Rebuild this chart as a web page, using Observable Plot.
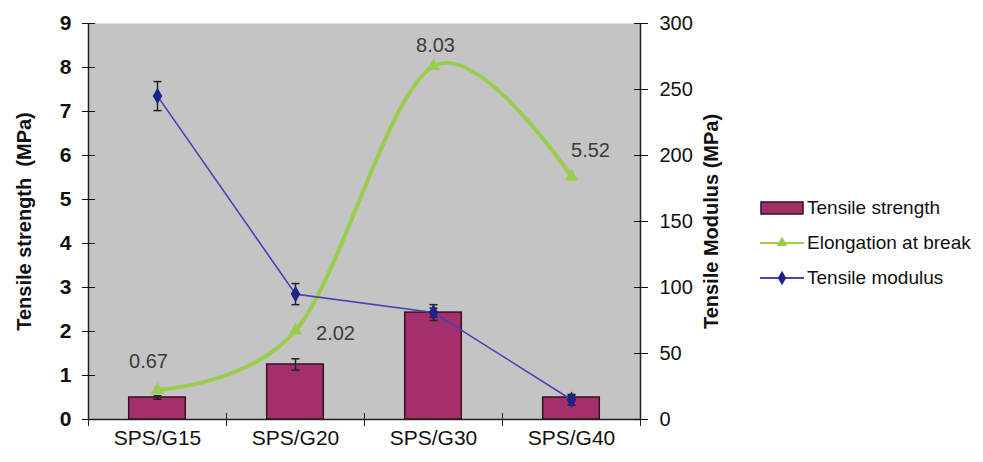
<!DOCTYPE html>
<html>
<head>
<meta charset="utf-8">
<script src="https://cdn.jsdelivr.net/npm/d3@7"></script>
<script src="https://cdn.jsdelivr.net/npm/@observablehq/plot@0.6"></script>
<style>
  body { margin: 0; background: #fff; }
  #wrap { position: relative; width: 983px; height: 462px; font-family: "Liberation Sans", Arial, sans-serif; }
  #legend { position: absolute; left: 760px; top: 190px; font-size: 19px; color: #111; }
  #legend .item { display: flex; align-items: center; height: 35px; }
  #legend svg { margin-right: 3px; }
</style>
</head>
<body>
<div id="wrap"><div id="legend"></div></div>
<script>
// Samples and mechanical properties
const categories = ["SPS/G15", "SPS/G20", "SPS/G30", "SPS/G40"];
const tensileStrength = [0.5, 1.25, 2.43, 0.5];          // MPa, left axis (bars)
const tensileStrengthErr = [0.04, 0.13, 0.1, 0.04];
const elongation = [0.67, 2.02, 8.03, 5.52];              // left axis (line)
const tensileModulus = [245, 95, 81, 15];                  // MPa, right axis
const tensileModulusErr = [11, 8, 6, 4];
const leftTicks = [0, 1, 2, 3, 4, 5, 6, 7, 8, 9];
const rightTicks = [0, 50, 100, 150, 200, 250, 300];

// Right axis shares the left scale: 300 MPa on the right lines up with 9 on the left
const rightToLeft = 9 / 300;

const colors = {
  plotBg: "#c4c4c4",
  bar: "#a3306a",
  barEdge: "#3b0f22",
  green: "#9acd4e",
  blueLine: "#4444b4",
  blueMark: "#20208a",
  errBar: "#222"
};

const rows = categories.map((c, i) => ({
  name: c,
  x: i + 0.5,
  strength: tensileStrength[i],
  sLo: tensileStrength[i] - tensileStrengthErr[i],
  sHi: tensileStrength[i] + tensileStrengthErr[i],
  elong: elongation[i],
  mod: tensileModulus[i] * rightToLeft,
  mLo: (tensileModulus[i] - tensileModulusErr[i]) * rightToLeft,
  mHi: (tensileModulus[i] + tensileModulusErr[i]) * rightToLeft
}));

// offsets (px) of the elongation value labels from their points
const labelOffsets = [[-9, -28], [40, 3], [2, -21], [19, -26]];

// horizontal cap for error bars
const capSymbol = {
  draw(ctx, size) {
    const w = Math.sqrt(size / Math.PI);
    ctx.moveTo(-w, 0);
    ctx.lineTo(w, 0);
  }
};

const barHalf = 0.205;
const font = "'Liberation Sans', Arial, sans-serif";

const chart = Plot.plot({
  width: 983,
  height: 462,
  marginLeft: 88,
  marginRight: 343,
  marginTop: 23,
  marginBottom: 43,
  style: { fontFamily: font, background: "transparent" },
  x: { domain: [0, 4] },
  y: { domain: [0, 9] },
  marks: [
    Plot.frame({ fill: colors.plotBg, stroke: "none" }),
    // tensile strength bars
    Plot.rectY(rows, {
      x1: d => d.x - barHalf, x2: d => d.x + barHalf, y1: 0, y2: "strength",
      fill: colors.bar, stroke: colors.barEdge, strokeWidth: 1.5
    }),
    Plot.ruleX(rows, { x: "x", y1: "sLo", y2: "sHi", stroke: colors.errBar, strokeWidth: 1.5 }),
    Plot.dot(rows, { x: "x", y: "sLo", symbol: capSymbol, r: 4, stroke: colors.errBar, strokeWidth: 1.5 }),
    Plot.dot(rows, { x: "x", y: "sHi", symbol: capSymbol, r: 4, stroke: colors.errBar, strokeWidth: 1.5 }),
    // elongation at break (smoothed)
    Plot.line(rows, { x: "x", y: "elong", curve: "cardinal", stroke: colors.green, strokeWidth: 4 }),
    Plot.dot(rows, { x: "x", y: "elong", symbol: "triangle", r: 5, fill: colors.green, stroke: "none" }),
    // tensile modulus
    Plot.line(rows, { x: "x", y: "mod", stroke: colors.blueLine, strokeWidth: 1.6 }),
    Plot.ruleX(rows, { x: "x", y1: "mLo", y2: "mHi", stroke: colors.errBar, strokeWidth: 1.5 }),
    Plot.dot(rows, { x: "x", y: "mLo", symbol: capSymbol, r: 4, stroke: colors.errBar, strokeWidth: 1.5 }),
    Plot.dot(rows, { x: "x", y: "mHi", symbol: capSymbol, r: 4, stroke: colors.errBar, strokeWidth: 1.5 }),
    Plot.dot(rows, { x: "x", y: "mod", symbol: "diamond", r: 5, fill: colors.blueMark, stroke: "none" }),
    // elongation values
    ...rows.map((d, i) => Plot.text([d], {
      x: "x", y: "elong", text: r => r.elong.toFixed(2),
      dx: labelOffsets[i][0], dy: labelOffsets[i][1],
      fontSize: 20, fill: "#3c3c3c"
    })),
    // axis lines
    Plot.ruleX([0, 4], { stroke: "#222", strokeWidth: 1.5 }),
    Plot.ruleY([0], { stroke: "#222", strokeWidth: 1.5 }),
    // left axis
    Plot.axisY({
      anchor: "left", ticks: leftTicks, tickSize: 13, dx: 7, tickPadding: 11,
      fontSize: 21, fontWeight: "bold", color: "#111", label: null
    }),
    // right axis (modulus)
    Plot.axisY({
      anchor: "right", ticks: rightTicks.map(v => v * rightToLeft),
      tickFormat: v => String(Math.round(v / rightToLeft)),
      tickSize: 14, dx: -7, tickPadding: 12,
      fontSize: 20, color: "#111", label: null
    }),
    // category boundaries
    Plot.axisX({ ticks: [0, 1, 2, 3, 4], tickFormat: () => "", tickSize: 13, dy: -6, color: "#222", label: null }),
    // category names
    Plot.axisX({
      ticks: rows.map(d => d.x), tickFormat: v => categories[Math.floor(v)],
      tickSize: 0, tickPadding: 11, fontSize: 21, color: "#111", label: null
    }),
    // axis titles
    Plot.text(["Tensile strength  (MPa)"], {
      frameAnchor: "left", textAnchor: "middle", rotate: -90, dx: -64, text: d => d,
      fontSize: 20, fontWeight: "bold", fill: "#111"
    }),
    Plot.text(["Tensile Modulus (MPa)"], {
      frameAnchor: "right", textAnchor: "middle", rotate: -90, dx: 71, text: d => d,
      fontSize: 20, fontWeight: "bold", fill: "#111"
    })
  ]
});

const wrap = document.getElementById("wrap");
wrap.insertBefore(chart, wrap.firstChild);

// legend
const legendItems = [
  { label: "Tensile strength", kind: "bar" },
  { label: "Elongation at break", kind: "tri" },
  { label: "Tensile modulus", kind: "dia" }
];
const legend = d3.select("#legend");
for (const it of legendItems) {
  const row = legend.append("div").attr("class", "item");
  const s = row.append("svg").attr("width", 44).attr("height", 16);
  if (it.kind === "bar") {
    s.append("rect").attr("x", 1).attr("y", 2).attr("width", 42).attr("height", 12)
      .attr("fill", colors.bar).attr("stroke", colors.barEdge).attr("stroke-width", 1.5);
  } else if (it.kind === "tri") {
    s.append("line").attr("x1", 0).attr("x2", 44).attr("y1", 8).attr("y2", 8)
      .attr("stroke", colors.green).attr("stroke-width", 2);
    s.append("path").attr("transform", "translate(22,8)")
      .attr("d", d3.symbol(d3.symbolTriangle, 50)()).attr("fill", colors.green);
  } else {
    s.append("line").attr("x1", 0).attr("x2", 44).attr("y1", 8).attr("y2", 8)
      .attr("stroke", colors.blueLine).attr("stroke-width", 2);
    s.append("path").attr("transform", "translate(22,8)")
      .attr("d", d3.symbol(d3.symbolDiamond, 60)()).attr("fill", colors.blueMark);
  }
  row.append("span").text(it.label);
}
</script>
</body>
</html>
